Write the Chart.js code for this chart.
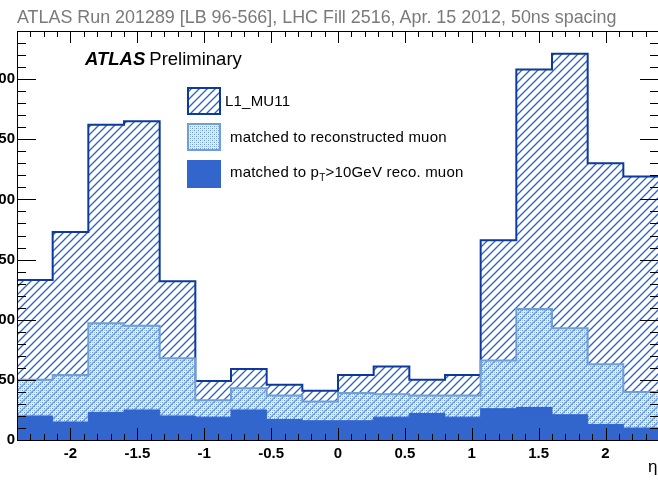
<!DOCTYPE html>
<html>
<head>
<meta charset="utf-8">
<script src="https://cdn.jsdelivr.net/npm/chart.js@4.4.1/dist/chart.umd.min.js"></script>
<style>
  html, body { margin: 0; padding: 0; width: 658px; height: 482px; overflow: hidden; background: #fff;
    font-family: "Liberation Sans", Arial, Helvetica, sans-serif; }
  #wrap { position: absolute; left: -40px; top: 0; width: 720px; height: 482px; }
  .txt { position: absolute; white-space: nowrap; line-height: 1; }
  #title { left: 17px; top: 9px; font-size: 17.9px; color: #7a7a7a; }
  #atlas { left: 85px; top: 50px; font-size: 18.5px; color: #000; }
  #atlas b { font-style: italic; font-weight: bold; margin-right: 4px; }
  .leg { font-size: 15px; letter-spacing: 0.2px; color: #000; }
  .leg sub { font-size: 10px; vertical-align: -4px; }
  #eta { left: 648px; top: 458px; font-size: 17px; color: #000; }
</style>
</head>
<body>
<div id="wrap"><canvas id="c" width="720" height="482"></canvas></div>
<div class="txt" id="title">ATLAS Run 201289 [LB 96-566], LHC Fill 2516, Apr. 15 2012, 50ns spacing</div>
<div class="txt" id="atlas"><b>ATLAS</b>Preliminary</div>
<div class="txt leg" id="leg1" style="left:225px;top:93px">L1_MU11</div>
<div class="txt leg" id="leg2" style="left:230px;top:129px">matched to reconstructed muon</div>
<div class="txt leg" id="leg3" style="left:230px;top:164px">matched to p<sub>T</sub>&gt;10GeV reco. muon</div>
<div class="txt" id="eta">η</div>
<script>
// Histogram binning in eta (18 bins from -2.4 to 2.4)
const binEdges = [-2.4, -2.1333, -1.8667, -1.6, -1.3333, -1.0667, -0.8, -0.5333, -0.2667, 0,
                  0.2667, 0.5333, 0.8, 1.0667, 1.3333, 1.6, 1.8667, 2.1333, 2.4];

// Entries per bin
const l1mu11 = [133, 173, 262, 265, 132, 49, 59, 46, 41, 54, 61, 50, 54, 166, 308, 321, 230, 219];
const recoMatched = [50, 54, 97, 95, 68, 33, 43, 37, 32, 39, 38, 37, 37, 66, 109, 93, 63, 40];
const ptMatched = [20, 15, 23, 25, 20, 19, 25, 17, 16, 16, 19, 22, 19, 26, 27, 21, 13, 10];

// Axis ticks
const xTickValues = [-2, -1.5, -1, -0.5, 0, 0.5, 1, 1.5, 2];
const yTickValues = [0, 50, 100, 150, 200, 250, 300];

const SHIFT = 40; // canvas sits 40px left of the page edge

const DARK = '#0b3a9c';
const LIGHT = '#6f9fd6';
const SOLID = '#3366cc';

function hatchPattern(ctx, color, s) {
  const c = document.createElement('canvas');
  c.width = s; c.height = s;
  const g = c.getContext('2d');
  g.strokeStyle = color;
  g.lineWidth = 1.3;
  g.beginPath();
  g.moveTo(-1, s + 1); g.lineTo(s + 1, -1);
  g.moveTo(-1, 1); g.lineTo(1, -1);
  g.moveTo(s - 1, s + 1); g.lineTo(s + 1, s - 1);
  g.stroke();
  return ctx.createPattern(c, 'repeat');
}

function dotPattern(ctx) {
  const c = document.createElement('canvas');
  c.width = 4; c.height = 4;
  const g = c.getContext('2d');
  g.fillStyle = 'rgba(195,218,244,0.5)';
  g.fillRect(0, 0, 4, 4);
  g.fillStyle = 'rgba(85,135,210,0.85)';
  g.fillRect(0, 0, 1, 1); g.fillRect(2, 2, 1, 1);
  g.fillStyle = 'rgba(140,180,230,0.7)';
  g.fillRect(2, 0, 1, 1); g.fillRect(0, 2, 1, 1);
  return ctx.createPattern(c, 'repeat');
}

// Stepped outline points: drop to zero at both ends like a histogram
function histPoints(values) {
  const pts = [{ x: binEdges[0], y: 0 }];
  values.forEach((v, i) => pts.push({ x: binEdges[i], y: v }));
  pts.push({ x: binEdges[binEdges.length - 1], y: values[values.length - 1] });
  pts.push({ x: binEdges[binEdges.length - 1], y: 0 });
  return pts;
}

const canvas = document.getElementById('c');
const ctx = canvas.getContext('2d');
const hatch = hatchPattern(ctx, '#2d5fd0', 8);
const dots = dotPattern(ctx);

// Frame with inward tick marks on all four sides, plus legend boxes
const framePlugin = {
  id: 'frame',
  afterDatasetsDraw(chart) {
    const { ctx, chartArea: a, scales } = chart;
    const xs = scales.x, ys = scales.y;
    ctx.save();
    ctx.strokeStyle = '#000';
    ctx.lineWidth = 1;
    ctx.beginPath();
    // x ticks every 0.1, major every 0.5
    for (let k = -24; k <= 24; k++) {
      const v = k / 10;
      const px = Math.round(xs.getPixelForValue(v)) + 0.5;
      const major = k % 5 === 0;
      const len = major ? 12 : 6;
      ctx.moveTo(px, a.bottom); ctx.lineTo(px, a.bottom - len);
      ctx.moveTo(px, a.top); ctx.lineTo(px, a.top + len);
    }
    // y ticks every 10, major every 50
    for (let v = 0; v <= 340; v += 10) {
      const py = Math.round(ys.getPixelForValue(v)) + 0.5;
      const len = v % 50 === 0 ? 19 : 9;
      ctx.moveTo(a.left, py); ctx.lineTo(a.left + len, py);
      ctx.moveTo(a.right, py); ctx.lineTo(a.right - len, py);
    }
    ctx.stroke();
    ctx.strokeRect(Math.round(a.left) + 0.5, Math.round(a.top) + 0.5,
                   Math.round(a.right - a.left), Math.round(a.bottom - a.top));

    // legend boxes
    const bx = 188 + SHIFT, bw = 32, bh = 26;
    ctx.lineWidth = 2;
    ctx.fillStyle = '#fff';
    ctx.fillRect(bx, 88, bw, bh);
    ctx.fillStyle = hatch;
    ctx.fillRect(bx, 88, bw, bh);
    ctx.strokeStyle = DARK;
    ctx.strokeRect(bx, 88, bw, bh);

    ctx.fillStyle = dots;
    ctx.fillRect(bx, 124, bw, bh);
    ctx.strokeStyle = LIGHT;
    ctx.strokeRect(bx, 124, bw, bh);

    ctx.fillStyle = SOLID;
    ctx.fillRect(bx - 1, 160, bw + 2, bh + 2);
    ctx.restore();
  }
};

new Chart(canvas, {
  type: 'line',
  data: {
    datasets: [
      { label: 'matched to pT>10GeV reco. muon', data: histPoints(ptMatched),
        borderColor: SOLID, backgroundColor: SOLID, borderWidth: 1, fill: 'origin' },
      { label: 'matched to reconstructed muon', data: histPoints(recoMatched),
        borderColor: LIGHT, backgroundColor: dots, borderWidth: 2, fill: 'origin' },
      { label: 'L1_MU11', data: histPoints(l1mu11),
        borderColor: DARK, backgroundColor: hatch, borderWidth: 2, fill: 'origin' }
    ]
  },
  options: {
    responsive: false,
    animation: false,
    devicePixelRatio: 1,
    layout: { padding: { top: 31, right: 21, left: 0, bottom: 0 } },
    elements: { point: { radius: 0 }, line: { stepped: true, tension: 0 } },
    plugins: { legend: { display: false }, tooltip: { enabled: false }, title: { display: false } },
    scales: {
      x: {
        type: 'linear', min: -2.4, max: 2.4,
        afterFit(s) { s.height = 42; },
        afterBuildTicks(s) { s.ticks = xTickValues.map(v => ({ value: v })); },
        grid: { display: false, drawTicks: false }, border: { display: false },
        ticks: { padding: 5, color: '#000', font: { family: 'Liberation Sans', size: 15, weight: 'bold' },
                 maxRotation: 0, autoSkip: false, callback: v => String(v) }
      },
      y: {
        type: 'linear', min: 0, max: 340,
        afterFit(s) { s.width = 57; },
        afterBuildTicks(s) { s.ticks = yTickValues.map(v => ({ value: v })); },
        grid: { display: false, drawTicks: false }, border: { display: false },
        ticks: { padding: 2, color: '#000', font: { family: 'Liberation Sans', size: 15, weight: 'bold' },
                 callback: v => String(v) }
      }
    }
  },
  plugins: [framePlugin]
});
</script>
</body>
</html>
